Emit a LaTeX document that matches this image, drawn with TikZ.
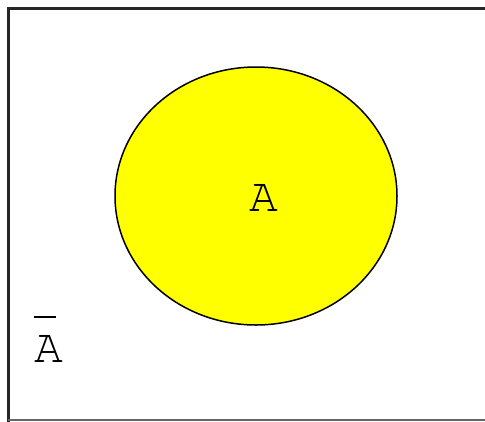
\documentclass[tikz,border=0pt]{standalone}
\usepackage[T1]{fontenc}
\begin{document}
\begin{tikzpicture}[x=1pt,y=-1pt,
  setlabel/.style={font=\fontfamily{pcr}\fontsize{48}{48}\selectfont, inner sep=0pt, text=black}]
\useasboundingbox (0,0) rectangle (485,421);
\fill[white] (0,0) rectangle (485,421);
\draw[line width=3pt, black!85] (8,425) -- (8,8) -- (490,8);
\draw[line width=2pt, black!60] (8,420) -- (490,420);
\draw[line width=1.5pt, fill={rgb,255:red,255;green,255;blue,0}] (256,196) ellipse [x radius=141, y radius=129];
\node[setlabel] (a) at (264,198) {A};
\node[setlabel] (abar) at (49,349) {A};
\draw[line width=2pt] ([xshift=0pt,yshift=18pt]abar.north west) -- ([xshift=-8pt,yshift=18pt]abar.north east);
\end{tikzpicture}
\end{document}
